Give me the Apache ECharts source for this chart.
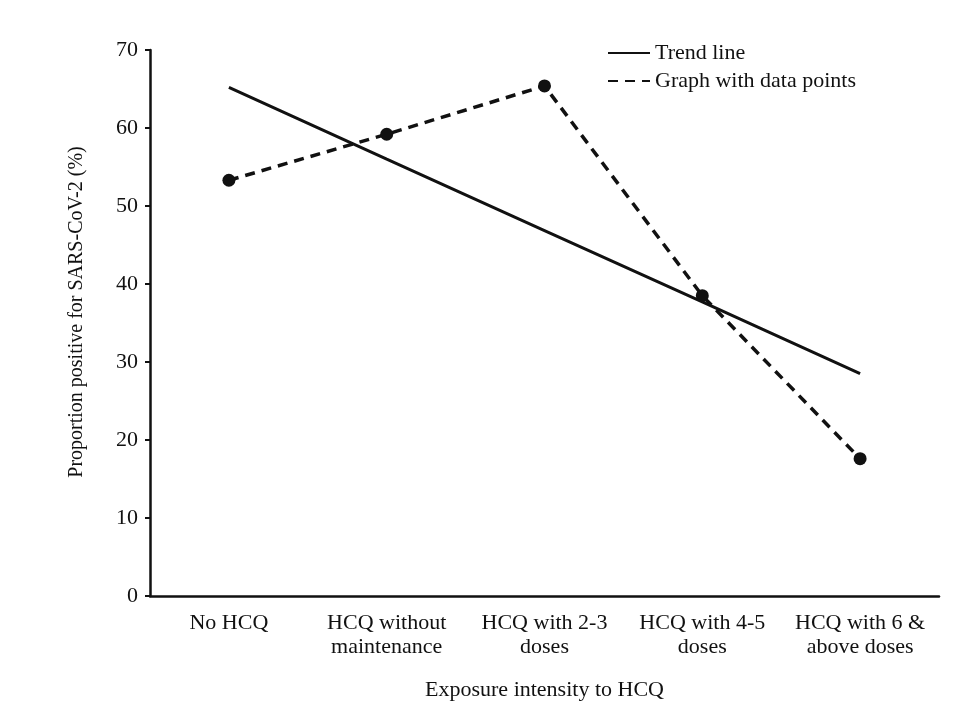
<!DOCTYPE html>
<html>
<head>
<meta charset="utf-8">
<script src="https://cdn.jsdelivr.net/npm/echarts@6/dist/echarts.min.js"></script>
<style>html,body{margin:0;padding:0;background:#fff;}#c{width:980px;height:722px;}</style>
</head>
<body>
<div id="c"></div>
<script>
var categories = ['No HCQ', 'HCQ without\nmaintenance', 'HCQ with 2-3\ndoses', 'HCQ with 4-5\ndoses', 'HCQ with 6 &\nabove doses'];
var trendValues = [65.2, 56.0, 46.85, 37.7, 28.5];
var dataValues = [53.3, 59.2, 65.4, 38.5, 17.6];
var yTicks = [0, 10, 20, 30, 40, 50, 60, 70];

var font = 'Liberation Serif';
var chart = echarts.init(document.getElementById('c'));
chart.setOption({
  backgroundColor: '#fff',
  animation: false,
  textStyle: { fontFamily: font, color: '#111' },
  grid: { left: 150, right: 41, top: 50, bottom: 126 },
  legend: {
    orient: 'vertical',
    left: 602,
    top: 37,
    itemWidth: 42,
    itemHeight: 14,
    itemGap: 6,
    textStyle: { fontFamily: font, fontSize: 22, color: '#111' },
    data: [
      { name: 'Trend line', itemStyle: { opacity: 0 } },
      { name: 'Graph with data points', itemStyle: { opacity: 0 } }
    ]
  },
  xAxis: {
    type: 'category',
    data: categories,
    boundaryGap: true,
    name: 'Exposure intensity to HCQ',
    nameLocation: 'middle',
    nameGap: 83,
    nameTextStyle: { fontFamily: font, fontSize: 22, color: '#111' },
    axisLine: { lineStyle: { color: '#111', width: 2.5 } },
    axisTick: { alignWithLabel: true, length: 4, lineStyle: { color: '#111', width: 2 } },
    axisLabel: { fontFamily: font, fontSize: 22, color: '#111', margin: 15, lineHeight: 24, interval: 0 },
    splitLine: { show: false }
  },
  yAxis: {
    type: 'value',
    min: yTicks[0],
    max: yTicks[yTicks.length - 1],
    interval: 10,
    name: 'Proportion positive for SARS-CoV-2 (%)',
    nameLocation: 'middle',
    nameGap: 63,
    nameTextStyle: { fontFamily: font, fontSize: 20, color: '#111', padding: [0, 0, 0, 22] },
    axisLine: { show: true, lineStyle: { color: '#111', width: 2.5 } },
    axisTick: { show: true, length: 5, lineStyle: { color: '#111', width: 2 } },
    axisLabel: { fontFamily: font, fontSize: 22, color: '#111', margin: 12 },
    splitLine: { show: false }
  },
  series: [
    {
      name: 'Trend line',
      type: 'line',
      data: trendValues,
      symbol: 'none',
      lineStyle: { color: '#111', width: 3, type: 'solid' },
      itemStyle: { color: '#111' }
    },
    {
      name: 'Graph with data points',
      type: 'line',
      data: dataValues,
      symbol: 'circle',
      symbolSize: 13,
      lineStyle: { color: '#111', width: 3.5, type: [10, 7] },
      itemStyle: { color: '#111' }
    }
  ]
});
</script>
</body>
</html>
